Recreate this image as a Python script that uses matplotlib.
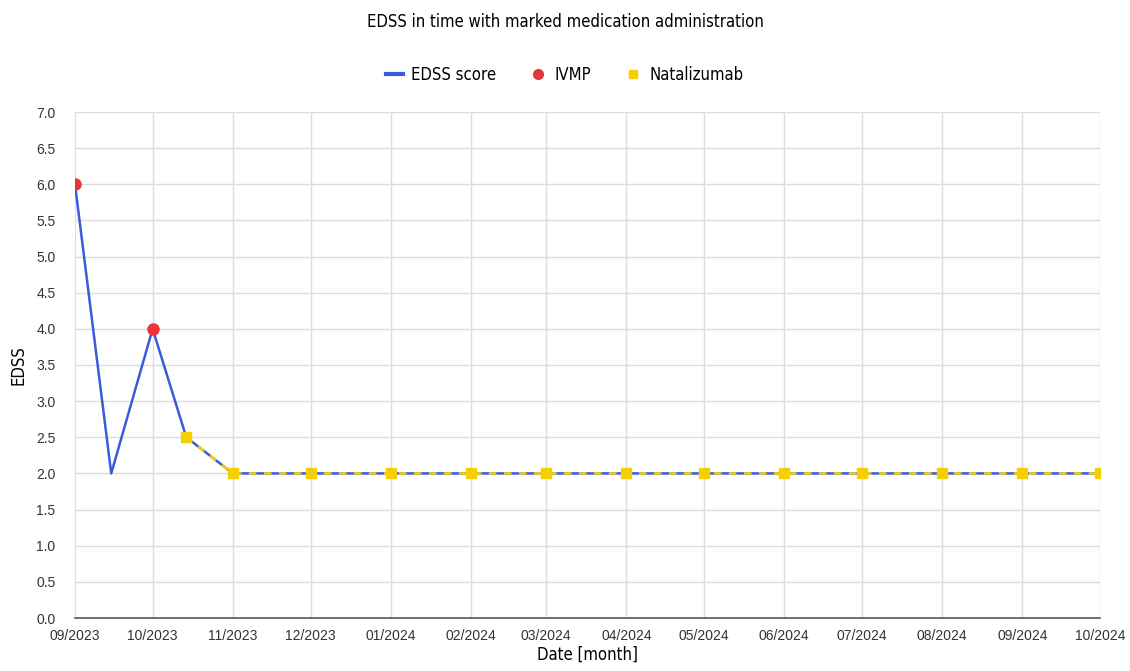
import numpy as np
import matplotlib.pyplot as plt
import matplotlib.dates as mdates
import pandas as pd
from matplotlib.lines import Line2D

plt.rcParams['font.family'] = ['DejaVu Sans']
plt.rcParams['font.stretch'] = 'condensed'

# EDSS score over time
edss_dates = pd.to_datetime(['2023-09-01', '2023-09-15', '2023-10-01', '2023-10-14',
                             '2023-11-01', '2023-12-01', '2024-01-01', '2024-02-01',
                             '2024-03-01', '2024-04-01', '2024-05-01', '2024-06-01',
                             '2024-07-01', '2024-08-01', '2024-09-01', '2024-10-01'])
edss_score = [6.0, 2.0, 4.0, 2.5, 2.0, 2.0, 2.0, 2.0, 2.0, 2.0, 2.0, 2.0, 2.0, 2.0, 2.0, 2.0]

# IVMP administration
ivmp_dates = pd.to_datetime(['2023-09-01', '2023-10-01'])
ivmp_score = [6.0, 4.0]

# Natalizumab administration
nat_dates = pd.to_datetime(['2023-10-14', '2023-11-01', '2023-12-01', '2024-01-01',
                            '2024-02-01', '2024-03-01', '2024-04-01', '2024-05-01',
                            '2024-06-01', '2024-07-01', '2024-08-01', '2024-09-01',
                            '2024-10-01'])
nat_score = [2.5, 2.0, 2.0, 2.0, 2.0, 2.0, 2.0, 2.0, 2.0, 2.0, 2.0, 2.0, 2.0]

month_ticks = pd.date_range('2023-09-01', '2024-10-01', freq='MS')

fig = plt.figure(figsize=(11.3, 6.71), dpi=100)
ax = fig.add_axes([75/1130, 53/671, 1025/1130, 506/671])

blue = '#3b5bdb'
red = '#e8353a'
yellow = '#f5d000'

ax.plot(edss_dates, edss_score, color=blue, lw=1.8, zorder=3)
ax.plot(nat_dates, nat_score, color=yellow, lw=1.8, ls=(0, (3, 3)), zorder=4)
ax.plot(ivmp_dates, ivmp_score, 'o', color=red, ms=8, zorder=5)
ax.plot(nat_dates, nat_score, 's', color=yellow, ms=7, zorder=5)

ax.set_xlim(month_ticks[0], month_ticks[-1])
ax.set_ylim(0, 7)
ax.set_xticks(month_ticks)
ax.xaxis.set_major_formatter(mdates.DateFormatter('%m/%Y'))
ax.set_yticks(np.arange(0, 7.01, 0.5))
ax.yaxis.set_major_formatter(plt.FormatStrFormatter('%.1f'))
for lab in ax.get_xticklabels() + ax.get_yticklabels():
    lab.set_family(['Liberation Sans', 'DejaVu Sans'])
    lab.set_stretch('normal')
    lab.set_fontsize(10)
    lab.set_color('#333333')
ax.tick_params(length=0)
ax.tick_params(axis='x', pad=8)
ax.tick_params(axis='y', pad=14)

ax.grid(True, color='#dddddd', lw=1)
ax.set_axisbelow(True)
for s in ['top', 'right', 'left']:
    ax.spines[s].set_visible(False)
ax.spines['bottom'].set_color('#555555')
ax.spines['bottom'].set_linewidth(1.2)

ax.set_xlabel('Date [month]', fontsize=12, labelpad=2)
ax.set_ylabel('EDSS', fontsize=12, labelpad=6)
fig.text(0.5, 1 - 22/671, 'EDSS in time with marked medication administration',
         ha='center', va='center', fontsize=12)

handles = [Line2D([], [], color=blue, lw=3),
           Line2D([], [], marker='o', ls='', color=red, ms=7),
           Line2D([], [], marker='s', ls='', color=yellow, ms=6)]
fig.legend(handles, ['EDSS score', 'IVMP', 'Natalizumab'], loc='center',
           bbox_to_anchor=(0.5, 1 - 75/671), ncol=3, frameon=False, fontsize=12,
           handlelength=1.0, columnspacing=2.0, handletextpad=0.5)

fig.savefig('out.png', dpi=100)
